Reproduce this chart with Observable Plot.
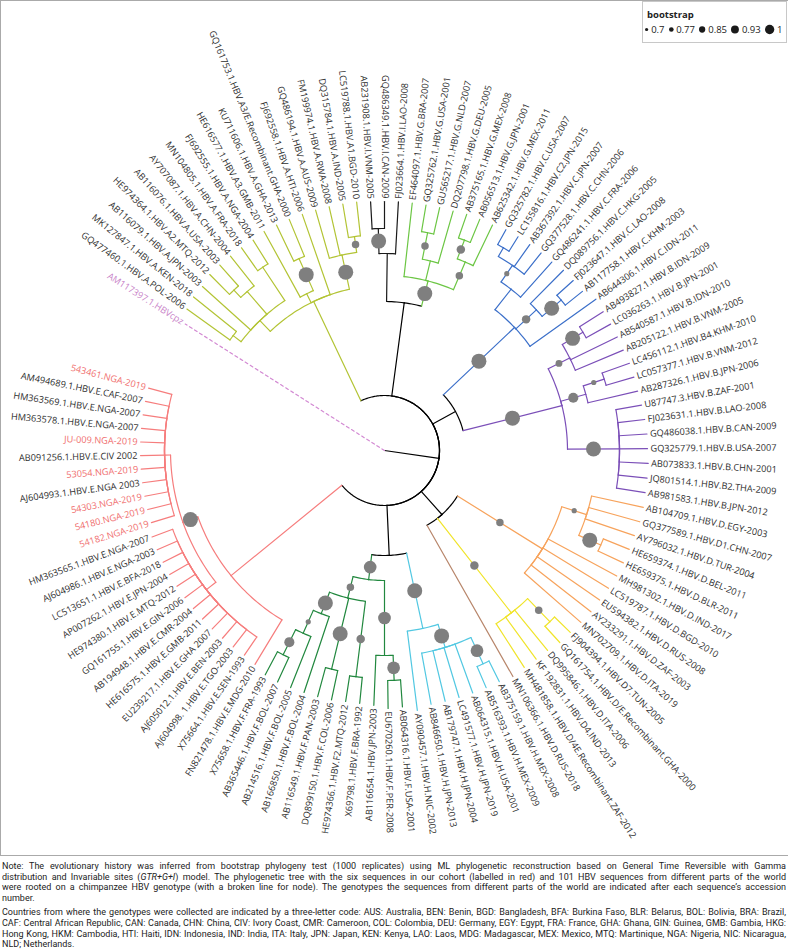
<!DOCTYPE html>
<html><head><meta charset="utf-8">
<script src="https://cdn.jsdelivr.net/npm/d3@7"></script>
<script src="https://cdn.jsdelivr.net/npm/@observablehq/plot@0.6"></script>
<style>
body{margin:0;background:#fff;}
#wrap{position:relative;width:788px;height:855px;overflow:hidden;}
#legend{position:absolute;left:642px;top:1px;width:145px;height:42px;border:1px solid #c8c8c8;background:#fff;font-family:"Open Sans",sans-serif;color:#222;box-sizing:border-box;}
#legend .t{font-weight:bold;font-size:9.5px;line-height:12px;position:absolute;left:4px;top:7px;}
#legend .row{position:absolute;left:1px;top:21px;height:12px;display:flex;align-items:center;font-size:9.5px;white-space:nowrap;}
#legend .it{display:flex;align-items:center;margin-right:3px;}
#cap{width:784px;padding:5px 2px 0 2px;font-family:Roboto,sans-serif;font-size:9px;line-height:10.6px;color:#222;border-top:1px solid #aaa;}
#cap .l{white-space:nowrap;text-align:justify;text-align-last:justify;}
#cap .e{white-space:nowrap;text-align:left;}
#cap .gap{height:4px;}
.vl{position:absolute;left:0;top:0;width:1px;height:855px;background:#aaa;}
.hl{position:absolute;left:0;top:0;height:1px;width:788px;background:#aaa;}
</style></head><body>
<div id="wrap"><div class="hl"></div><div class="vl"></div><div id="chart"></div><div id="legend"></div></div>
<div id="cap">
<div class="l">Note: The evolutionary history was inferred from bootstrap phylogeny test (1000 replicates) using ML phylogenetic reconstruction based on General Time Reversible with Gamma</div>
<div class="l">distribution and Invariable sites (<i>GTR+G+I</i>) model. The phylogenetic tree with the six sequences in our cohort (labelled in red) and 101 HBV sequences from different parts of the world</div>
<div class="l">were rooted on a chimpanzee HBV genotype (with a broken line for node). The genotypes the sequences from different parts of the world are indicated after each sequence’s accession</div>
<div class="e">number.</div>
<div class="gap"></div>
<div class="l">Countries from where the genotypes were collected are indicated by a three-letter code: AUS: Australia, BEN: Benin, BGD: Bangladesh, BFA: Burkina Faso, BLR: Belarus, BOL: Bolivia, BRA: Brazil,</div>
<div class="l">CAF: Central African Republic, CAN: Canada, CHN: China, CIV: Ivory Coast, CMR: Cameroon, COL: Colombia, DEU: Germany, EGY: Egypt, FRA: France, GHA: Ghana, GIN: Guinea, GMB: Gambia, HKG:</div>
<div class="l">Hong Kong, HKM: Cambodia, HTI: Haiti, IDN: Indonesia, IND: India, ITA: Italy, JPN: Japan, KEN: Kenya, LAO: Laos, MDG: Madagascar, MEX: Mexico, MTQ: Martinique, NGA: Nigeria, NIC: Nicaragua,</div>
<div class="e">NLD; Netherlands.</div>
</div>
<script>
// ---------- DATA ----------
const tipsCpz = ["AM117397.1.HBVcpz"];
const tipsA = ["GQ477460.1.HBV.A.POL-2006","MK127847.1.HBV.A.KEN-2018","AB116079.1.HBV.A.JPN-2003","HE974364.1.HBV.A2.MTQ-2012","AB116076.1.HBV.A.USA-2003","AY707087.1.HBV.A.CHN-2004","MN104805.1.HBV.A.FRA-2018","FJ692555.1.HBV.A.NGA-2004","HE616577.1.HBV.A3.GMB-2011","KU711606.1.HBV.A.GHA-2013","GQ161753.1.HBV.A3/E.Recombinant.GHA-2000","FJ692558.1.HBV.A.HTI-2006","GQ486194.1.HBV.A.AUS-2009","FM199974.1.HBV.A.RWA-2008","DQ315784.1.HBV.A.IND-2005","LC519788.1.HBV.A1.BGD-2010"];
const tipsI = ["AB231908.1.HBV.I.VNM-2005","GQ486349.1.HBV.I.CAN-2009","FJ023664.1.HBV.I.LAO-2008"];
const tipsG = ["EF464097.1.HBV.G.BRA-2007","GQ325762.1.HBV.G.USA-2001","GU565217.1.HBV.G.NLD-2007","DQ207798.1.HBV.G.DEU-2005","AB375165.1.HBV.G.MEX-2008","AB056513.1.HBV.G.JPN-2001","AB625342.1.HBV.G.MEX-2011"];
const tipsC = ["GQ325782.1.HBV.C.USA-2007","LC155816.1.HBV.C2.JPN-2015","AB367392.1.HBV.C.JPN-2007","GQ377528.1.HBV.C.CHN-2006","GQ486241.1.HBV.C.FRA-2006","DQ089756.1.HBV.C.HKG-2005","FJ023647.1.HBV.C.LAO-2008","AB117758.1.HBV.C.KHM-2003","AB644306.1.HBV.C.IDN-2011"];
const tipsB = ["AB493827.1.HBV.B.IDN-2009","LC036263.1.HBV.B.JPN-2001","AB540587.1.HBV.B.IDN-2010","AB205122.1.HBV.B.VNM-2005","LC456112.1.HBV.B4.KHM-2010","LC057377.1.HBV.B.VNM-2012","AB287326.1.HBV.B.JPN-2006","U87747.3.HBV.B.ZAF-2001","FJ023631.1.HBV.B.LAO-2008","GQ486038.1.HBV.B.CAN-2009","GQ325779.1.HBV.B.USA-2007","AB073833.1.HBV.B.CHN-2001","JQ801514.1.HBV.B2.THA-2009","AB981583.1.HBV.B.JPN-2012"];
const tipsD = ["AB104709.1.HBV.D.EGY-2003","GQ377589.1.HBV.D1.CHN-2007","AY796032.1.HBV.D.TUR-2004","HE659374.1.HBV.D.BEL-2011","HE659375.1.HBV.D.BLR-2011","MH981302.1.HBV.D.IND-2017","LC519787.1.HBV.D.BGD-2010","EU594382.1.HBV.D.RUS-2008","AY233291.1.HBV.D.ZAF-2003","MN702709.1.HBV.D.ITA-2019"];
const tipsY = ["FJ904394.1.HBV.D7.TUN-2005","GQ161754.1.HBV.D/E.Recombinant.GHA-2000","DQ995846.1.HBV.D.ITA-2006","KF 192831.1.HBV.D4.IND-2013","MH481858.1.HBV.D/4E.Recombinant.ZAF-2012"];
const tipsBr = ["MN106366.1.HBV.D.RUS-2018"];
const tipsH = ["AB375159.1.HBV.H.MEX-2008","AB516393.1.HBV.H.MEX-2009","AB064315.1.HBV.H.USA-2001","LC491577.1.HBV.H.JPN-2019","AB179747.1.HBV.H.JPN-2004","AB846650.1.HBV.H.JPN-2013","AY090457.1.HBV.H.NIC-2002"];
const tipsF = ["AB064316.1.HBV.F.USA-2001","EU670260.1.HBV.F.PER-2008","AB116654.1.HBV.JPN-2003","X69798.1.HBV.F.BRA-1992","HE974366.1.HBV.F2.MTQ-2012","DQ899150.1.HBV.F.COL-2006","AB116549.1.HBV.F.PAN-2003","AB166850.1.HBV.F.BOL-2004","AB214516.1.HBV.F.BOL-2005","AB365446.1.HBV.F.BOL-2007","X75658.1.HBV.F.FRA-1993"];
const tipsE = ["FN821478.1.HBV.E.MDG-2010","X75664.1.HBV.E.SEN-1993","AJ604998. 1.HBV.E.TGO-2003","AJ605012.1.HBV.E.BEN-2003","EU239217.1.HBV.E.GHA 2007","HE616575.1.HBV.E.GMB-2011","AB194948.1.HBV.E.CMR-2004","GQ161755.1.HBV.E.GIN-2006","HE974380.1.HBV.E.MTQ-2012","AP007262.1.HBV.E.JPN-2004","LC513651.1.HBV.E.BFA-2018","AJ604986.1.HBV.E.NGA-2003","HM363565.1.HBV.E.NGA-2007","54182.NGA-2019","54180.NGA-2019","54303.NGA-2019","AJ604993.1.HBV.E.NGA 2003","53054.NGA-2019","AB091256.1.HBV.E.CIV 2002","JU-009.NGA-2019","HM363578.1.HBV.E.NGA-2007","HM363569.1.HBV.E.NGA-2007","AM494689.1.HBV.E.CAF-2007","543461.NGA-2019"];
const cohort = ["543461.NGA-2019","JU-009.NGA-2019","53054.NGA-2019","54303.NGA-2019","54180.NGA-2019","54182.NGA-2019"];

// topologies (branch lengths in 1e-3 substitutions/site, internal labels = bootstrap)
const backbone = "({cpz}:236,({A}:110,({I}:48,{G}:26):94,({C}:98,{B}:102):26,({D}:100,{Y}:120,{Br}:174):31,({H}:77,{F}:25):50,{E}:143):55);";
const topoCpz = "#0";
const topoA = "(((#0:53,#1:55):10,#2:65,((#3:28,#4:28):10,#5:38):30,(#6:28,#7:28):40):15,(#8:75,(#9:40,#10:40)1:35):10,#11:85,(#12:50,#13:50,(#14:34,#15:34)0.77:16)1:35)";
const topoI = "((#0:27,#1:27)1:25,#2:52)";
const topoG = "(#0:74,((#1:27,#2:27)0.77:27,#3:54):20,((#4:25,#5:25)0.8:20,#6:45)0.77:30)1";
const topoC = "((((#0:17,#1:17):10,#2:27,#3:27)0.7:20,#4:47):26,(#5:47,(#6:22,#7:22)1:25)0.8:28,#8:81)1";
const topoB = "(((#0:28,#1:28)1:24,#2:52,#3:52)0.75:24,((#4:29,#5:29)0.7:22,#6:51)0.85:26,(#7:26,#8:27,#9:28,#10:28,#11:29,#12:29,#13:29)1:52)1";
const topoD = "((#0:53,#1:53,#2:52,(#3:28,#4:28)1:24)0.7:26,#5:78,#6:77,#7:76,#8:76,#9:75)0.77";
const topoY = "((#0:22,#1:22)0.77:32,#2:52,#3:52,#4:52)0.8";
const topoBr = "#0";
const topoH = "(((#0:23,#1:23)0.93:29,#2:52,#3:52,#4:52,#5:52)1:24,#6:80)1";
const topoF = "(((#0:27,#1:28)0.93:25,#2:50)0.93:75,((#3:26,#4:26)0.8:76,(#5:30,#6:30)1:73,(#7:80,(#8:55,(#9:27,#10:26)0.85:28)0.7:25)1:23)0.77:22)0.93";
const topoE = "(#0:52,((#1:22,#2:22,#3:22,#4:22,#5:22,#6:22,#7:22,#8:22,#9:22,#10:22,#11:22,#12:22):12,(#13:24,#14:24,#15:24,#16:24,#17:24,#18:24,#19:24,#20:24,#21:24,#22:24,#23:24):6)1:16)";
const legendValues = [0.7, 0.77, 0.85, 0.93, 1];

// ---------- BUILD ----------
const clades = {cpz:[tipsCpz,topoCpz],A:[tipsA,topoA],I:[tipsI,topoI],G:[tipsG,topoG],C:[tipsC,topoC],B:[tipsB,topoB],D:[tipsD,topoD],Y:[tipsY,topoY],Br:[tipsBr,topoBr],H:[tipsH,topoH],F:[tipsF,topoF],E:[tipsE,topoE]};
function parse(str){
  let i=0;
  function node(){
    const n={children:[],name:"",len:0};
    if(str[i]==="("){ i++; for(;;){ n.children.push(node()); if(str[i]===","){i++;continue;} break; } i++; }
    let s=""; while(i<str.length && !",():;".includes(str[i])) s+=str[i++];
    n.name=s.trim();
    if(str[i]===":"){ i++; let t=""; while(i<str.length && !",();".includes(str[i])) t+=str[i++]; n.len=+t; }
    return n;
  }
  return node();
}
function tag(n,key,tips){
  n.clade=key;
  if(!n.children.length){ n.label=tips[+n.name.slice(1)]; n.bs=null; }
  else { n.bs = n.name!=="" ? +n.name : null; n.children.forEach(c=>tag(c,key,tips)); }
}
function expand(n){
  if(!n.children.length && n.name.startsWith("{")){
    const key=n.name.slice(1,-1); const [tips,topo]=clades[key];
    const sub=parse(topo); sub.len=n.len; tag(sub,key,tips); return sub;
  }
  n.clade="backbone"; n.bs=null; n.children=n.children.map(expand); return n;
}
const root = expand(parse(backbone)); root.len=0;

// circular layout
const theta0 = 212.4, step = 3.2, U = 0.001;
let k=0;
(function lay(n,d){ n.depth=d+n.len; if(!n.children.length){ n.ang=theta0+step*(k++); } else { n.children.forEach(c=>lay(c,n.depth)); n.ang=d3.mean(n.children,c=>c.ang);} })(root,0);
const P=(r,a)=>({x:r*U*Math.cos(a*Math.PI/180), y:r*U*Math.sin(a*Math.PI/180)});

const arcRows=[], radRows=[], dashRows=[], dots=[], tipRows=[];
let eid=0;
(function walk(n){
  n.children.forEach(c=>{
    const id=eid++;
    const nseg=Math.max(1,Math.ceil(Math.abs(c.ang-n.ang)));
    if(n.depth>0) for(let j=0;j<=nseg;j++){ const p=P(n.depth, n.ang+(c.ang-n.ang)*j/nseg); arcRows.push({...p,id,clade:n.clade}); }
    const tgt = c.clade==="cpz" ? dashRows : radRows;
    tgt.push({...P(n.depth,c.ang),id,clade:c.clade}); tgt.push({...P(c.depth,c.ang),id,clade:c.clade});
    if(c.bs!=null) dots.push({...P((n.depth+c.depth)/2,c.ang),bs:c.bs});
    if(!c.children.length){
      let a=((c.ang+180)%360+360)%360-180;
      const right = a>-90 && a<90;
      const kind = c.clade==="cpz" ? "cpz" : (cohort.includes(c.label) ? "cohort" : "ref");
      tipRows.push({...P(c.depth+3,c.ang),label:c.label,rot:right?a:a-180,right,kind});
    }
    walk(c);
  });
})(root);

const cladeKeys=["backbone","cpz","A","I","G","C","B","D","Y","Br","H","F","E"];
const cladeCols=["#000000","#d38ad3","#b3c435","#1a1a1a","#6cc644","#3b6fc9","#7b4fb8","#f7a35c","#f0e42a","#b8866b","#52c8e2","#22883f","#f67d7d"];
const labelCol={ref:"#2e2e2e",cohort:"#f06e6e",cpz:"#c984c9"};

const textMarks=[];
for(const kind of ["ref","cohort","cpz"]) for(const right of [true,false]){
  textMarks.push(Plot.text(tipRows.filter(d=>d.kind===kind && d.right===right),{x:"x",y:"y",text:"label",rotate:"rot",textAnchor:right?"start":"end",fill:labelCol[kind],fontSize:9.2,fontFamily:"Open Sans"}));
}

const chart = Plot.plot({
  width:788, height:855, margin:0,
  x:{domain:[-0.384,0.404], range:[0,788], axis:null},
  y:{domain:[-0.450,0.405], range:[0,855], axis:null},
  r:{type:"linear", domain:[0.7,1], range:[2.6,7.5]},
  color:{domain:cladeKeys, range:cladeCols},
  style:{background:"transparent"},
  marks:[
    Plot.line(arcRows,{x:"x",y:"y",z:"id",stroke:"clade",strokeWidth:1.2}),
    Plot.line(radRows,{x:"x",y:"y",z:"id",stroke:"clade",strokeWidth:1.2}),
    Plot.line(dashRows,{x:"x",y:"y",z:"id",stroke:"clade",strokeWidth:1.2,strokeDasharray:"3,3"}),
    Plot.dot(dots,{x:"x",y:"y",r:"bs",fill:"#7f7f7f"}),
    ...textMarks
  ]
});
document.getElementById("chart").appendChild(chart);

// legend (same radius scale, reduced as in the reference key)
const rs = chart.scale("r");
const lg = document.getElementById("legend");
let html = '<div class="t">bootstrap</div><div class="row">';
for(const v of legendValues){
  const rr = rs.apply(v)*0.62;
  html += `<span class="it"><svg width="${(2*rr+2).toFixed(1)}" height="11"><circle cx="${rr+1}" cy="5.5" r="${rr}" fill="#1a1a1a"/></svg><span style="margin-left:2px">${v}</span></span>`;
}
html += '</div>';
lg.innerHTML = html;
</script>
</body></html>
